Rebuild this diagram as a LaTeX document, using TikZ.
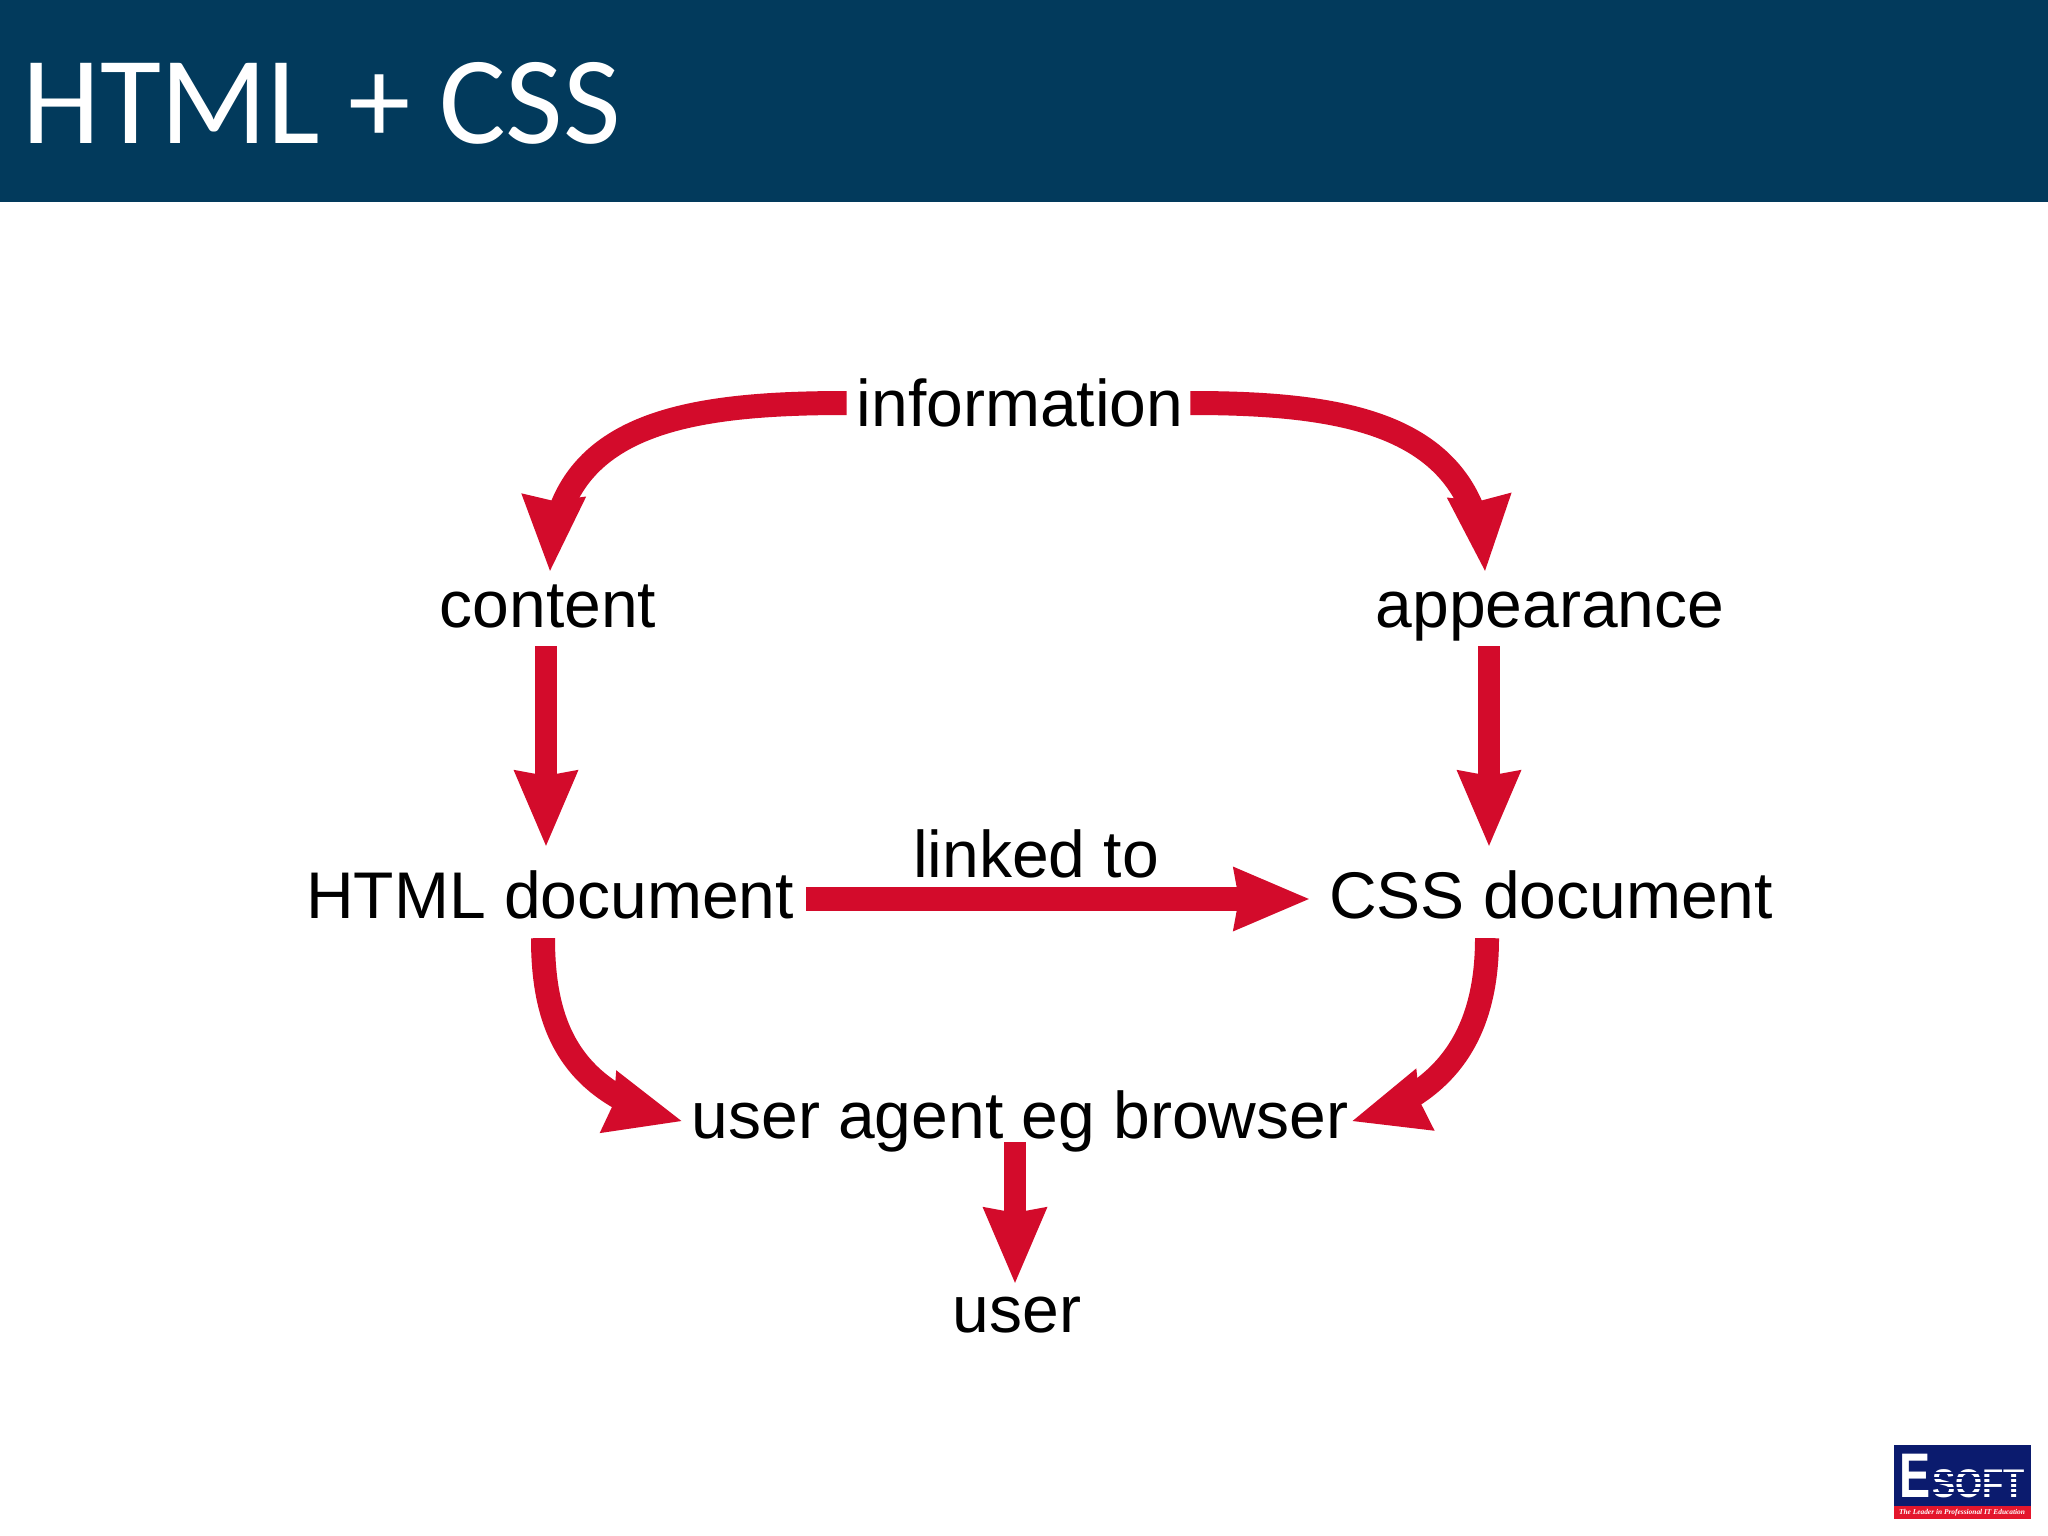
\documentclass[tikz,border=0pt]{standalone}
\usepackage{fontspec}
\setmainfont{Liberation Sans}
\newfontfamily\titlefont{Carlito}
\newfontfamily\logofont{Liberation Sans}
\newfontfamily\tagfont{Liberation Serif}
\usetikzlibrary{arrows.meta,bending,calc}
\definecolor{bandblue}{HTML}{023A5C}
\definecolor{arrowred}{HTML}{D30B2B}
\definecolor{logonavy}{HTML}{0B1B6E}
\definecolor{logored}{HTML}{E4162C}
\tikzset{
  label/.style={anchor=base,font=\fontsize{66}{70}\selectfont,text=black,inner xsep=12pt,inner ysep=8pt,text height=48pt,text depth=14pt},
  flow/.style={draw=arrowred,line width=22pt,-{Stealth[length=76pt,width=65pt,inset=6pt,line width=0pt,flex=0.2]}},
  curved flow/.style={flow,line width=24pt},
}
\begin{document}
\begin{tikzpicture}[x=1pt,y=-1pt]
\useasboundingbox (0,0) rectangle (2048,1536);
\fill[white] (0,0) rectangle (2048,1536);
\fill[bandblue] (0,0) rectangle (2048,202);
\node[anchor=base west,inner sep=0pt,text=white,font=\titlefont\fontsize{125}{130}\selectfont] (title) at (22,143) {HTML + CSS};

\node[label] (info) at (1020,426) {information};
\node[label] (content) at (548,627) {content};
\node[label] (appear) at (1550,627) {appearance};
\node[label] (html) at (550,918) {HTML document};
\node[label] (css) at (1551,918) {CSS document};
\node[label] (linked) at (1036,877) {linked to};
\node[label] (agent) at (1020,1138) {user agent eg browser};
\node[label] (user) at (1017,1332) {user};

\draw[curved flow] ([xshift=2pt]info.west) ++(0,-6) .. controls (680,403) and (553,425) .. ([xshift=2pt]content.north);
\draw[curved flow] ([xshift=-5pt]info.east) ++(0,-6) .. controls (1350,403) and (1478,425) .. ([xshift=-65pt]appear.north);
\draw[flow] ([xshift=-2pt,yshift=3pt]content.south) -- ([xshift=-4pt,yshift=16pt]html.north);
\draw[flow] ([xshift=-61pt,yshift=3pt]appear.south) -- ([xshift=-62pt,yshift=16pt]css.north);
\draw[flow,line width=24pt] ([yshift=2pt]html.east) -- ([xshift=-8pt,yshift=2pt]css.west);
\draw[curved flow] ([xshift=-7pt,yshift=2pt]html.south) .. controls (543,1030) and (573,1095) .. ([xshift=2pt]agent.west);
\draw[curved flow] ([xshift=-64pt,yshift=2pt]css.south) .. controls (1487,1030) and (1450,1095) .. ([xshift=-8pt]agent.east);
\draw[flow] ([xshift=-5pt,yshift=18pt]agent.south) -- ([xshift=-2pt,yshift=-7pt]user.north);

% logo
\fill[logonavy] (1894,1445) rectangle (2031,1506);
\fill[logored] (1894,1506) rectangle (2031,1519);
\node[anchor=base west,inner sep=0pt,text=white,font=\logofont\bfseries\fontsize{63}{63}\selectfont] (logoE) at (1899,1497) {\scalebox{.74}[1]{E}};
\node[anchor=base west,inner sep=0pt,text=white,font=\logofont\bfseries\fontsize{40}{40}\selectfont] (logoS) at (1932,1497) {\scalebox{.87}[1]{SOFT}};
\foreach \yy in {1472,1477,1482,1487,1492}{\fill[logonavy] (1932,\yy) rectangle (2029,\yy+1.5);}
\node[anchor=center,inner sep=0pt,text=white,font=\tagfont\itshape\bfseries\fontsize{7.4}{8}\selectfont] (logoT) at (1962,1513) {The Leader in Professional IT Education};
\end{tikzpicture}
\end{document}
